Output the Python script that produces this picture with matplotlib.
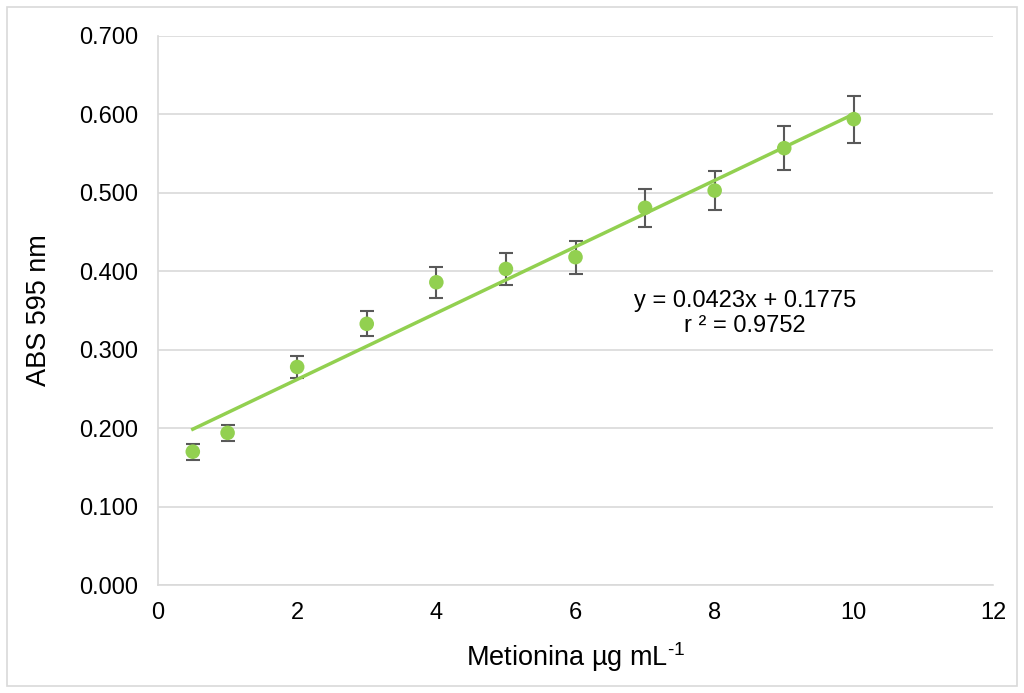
import matplotlib
matplotlib.use("Agg")
import matplotlib.pyplot as plt
from matplotlib.patches import Rectangle

plt.rcParams['font.family'] = ['Liberation Sans', 'DejaVu Sans']
plt.rcParams['mathtext.fontset'] = 'custom'
plt.rcParams['mathtext.rm'] = 'Liberation Sans'

conc = [0.5, 1, 2, 3, 4, 5, 6, 7, 8, 9, 10]
absorb = [0.170, 0.194, 0.278, 0.333, 0.386, 0.403, 0.418, 0.481, 0.503, 0.557, 0.594]
err = [0.010, 0.010, 0.014, 0.016, 0.020, 0.020, 0.021, 0.024, 0.025, 0.028, 0.030]
slope, intercept = 0.0423, 0.1775
x_ticks = [0, 2, 4, 6, 8, 10, 12]
y_ticks = [0.0, 0.1, 0.2, 0.3, 0.4, 0.5, 0.6, 0.7]

fig = plt.figure(figsize=(10.24, 6.93), dpi=100)
fig.patches.append(Rectangle((7/1024, 7/693), 1 - 14/1024, 1 - 14/693, transform=fig.transFigure,
                             fill=False, edgecolor='#d9d9d9', linewidth=1.2))
ax = fig.add_axes([158/1024, 1 - 585/693, (993 - 158)/1024, (585 - 36)/693])

green = '#92d050'
ax.grid(axis='y', color='#d9d9d9', linewidth=1.2)
ax.set_axisbelow(True)
ax.errorbar(conc, absorb, yerr=err, fmt='none', ecolor='#595959', elinewidth=1.5, capsize=5, capthick=1.5, zorder=2)
ax.plot([conc[0], conc[-1]], [slope * conc[0] + intercept, slope * conc[-1] + intercept],
        color=green, linewidth=2.5, zorder=3)
ax.scatter(conc, absorb, s=110, color=green, zorder=4, edgecolors='none')

ax.set_xlim(0, 12)
ax.set_ylim(0, 0.7)
ax.set_xticks(x_ticks)
ax.set_yticks(y_ticks)
ax.set_yticklabels([f'{v:.3f}' for v in y_ticks])
ax.tick_params(axis='y', length=0, labelsize=17, colors='black', pad=14)
ax.tick_params(axis='x', length=0, labelsize=17, colors='black', pad=12)

for s in ['top', 'right']:
    ax.spines[s].set_visible(False)
ax.spines['left'].set_color('#d9d9d9')
ax.spines['bottom'].set_color('#d9d9d9')
ax.spines['left'].set_linewidth(1.2)
ax.spines['bottom'].set_linewidth(1.2)

ax.set_xlabel(r'Metionina µg mL$^{\text{-1}}$', fontsize=19.5, labelpad=12)
ax.set_ylabel('ABS 595 nm', fontsize=19.5, labelpad=20)

ax.text(8.44, 0.346, 'y = 0.0423x + 0.1775\nr ² = 0.9752', ha='center', va='center',
        fontsize=17, linespacing=1.15)

fig.savefig('out.png', dpi=100)
